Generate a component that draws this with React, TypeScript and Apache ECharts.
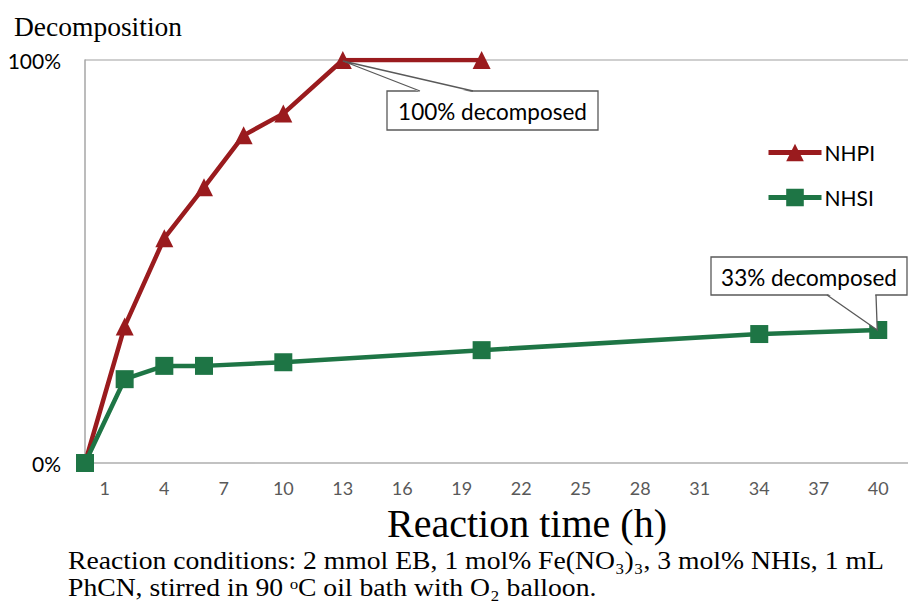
import React, { useEffect, useRef } from "react";
import * as echarts from "echarts";

const nhpiHours = [0, 2, 4, 6, 8, 10, 13, 20];
const nhpiValues = [0, 33.9, 55.8, 68.4, 81.3, 86.7, 100, 100];
const nhsiHours = [0, 2, 4, 6, 10, 20, 34, 40];
const nhsiValues = [0, 20.8, 24.1, 24.1, 25.0, 28.0, 32.0, 33.0];
const xTickLabels = [1, 4, 7, 10, 13, 16, 19, 22, 25, 28, 31, 34, 37, 40];
const seriesNames = ["NHPI", "NHSI"];
const callout1Text = "100% decomposed";
const callout2Text = "33% decomposed";
const captionLines = [
  "Reaction conditions: 2 mmol EB, 1 mol% Fe(NO₃)₃, 3 mol% NHIs, 1 mL",
  "PhCN, stirred in 90 ᵒC oil bath with O₂ balloon.",
];

const RED = "#9A1B1E";
const GREEN = "#1E7545";
const SANS = "Lato, 'Noto Sans', sans-serif";
const SERIF = "'Liberation Serif', 'DejaVu Serif', serif";

export default function App() {
  const ref = useRef<HTMLDivElement>(null);
  useEffect(() => {
    const chart = echarts.init(ref.current!, null, { renderer: "svg" });
    const option: any = {
      animation: false,
      backgroundColor: "#ffffff",
      grid: { left: 85, right: 0, top: 60, bottom: 141, containLabel: false },
      xAxis: {
        type: "value",
        min: 0,
        max: 41.5,
        axisLine: { show: true, lineStyle: { color: "#BFBFBF", width: 1.5 } },
        axisTick: { show: false },
        splitLine: { show: false },
        axisLabel: {
          customValues: xTickLabels,
          color: "#595959",
          fontSize: 18,
          fontFamily: SANS,
          margin: 16,
        },
      },
      yAxis: {
        type: "value",
        min: 0,
        max: 100,
        interval: 100,
        axisLine: { show: true, lineStyle: { color: "#A6A6A6", width: 1.5 } },
        axisTick: { show: false },
        splitLine: { show: true, lineStyle: { color: "#BFBFBF", width: 1.5 } },
        axisLabel: {
          formatter: "{value}%",
          color: "#000000",
          fontSize: 21,
          fontFamily: SANS,
          margin: 24,
        },
      },
      legend: {
        orient: "vertical",
        left: 766,
        top: 142,
        padding: 0,
        itemWidth: 53,
        itemHeight: 22,
        itemGap: 24,
        data: seriesNames,
        lineStyle: { width: 5 },
        textStyle: { fontSize: 21, fontFamily: SANS, color: "#000", padding: [0, 0, 0, -2] },
      },
      series: [
        {
          name: seriesNames[0],
          type: "line",
          data: nhpiHours.map((h, i) => [h, nhpiValues[i]]),
          symbol: "triangle",
          symbolSize: 18,
          lineStyle: { color: RED, width: 4.5 },
          itemStyle: { color: RED },
          z: 3,
        },
        {
          name: seriesNames[1],
          type: "line",
          data: nhsiHours.map((h, i) => [h, nhsiValues[i]]),
          symbol: "rect",
          symbolSize: 18,
          lineStyle: { color: GREEN, width: 4.5 },
          itemStyle: { color: GREEN },
          z: 4,
        },
      ],
    };
    chart.setOption(option);

    const p1 = chart.convertToPixel({ seriesIndex: 0 }, [nhpiHours[6], nhpiValues[6]]) as number[];
    const p2 = chart.convertToPixel({ seriesIndex: 1 }, [nhsiHours[7], nhsiValues[7]]) as number[];

    const callout = (bx: number, by: number, bw: number, bh: number, wa: number, wb: number, edgeY: number, tip: number[], text: string, inset: number) => [
      {
        type: "rect",
        shape: { x: bx, y: by, width: bw, height: bh },
        style: { fill: "#fff", stroke: "#595959", lineWidth: 1.3 },
        z: 10,
      },
      {
        type: "polygon",
        shape: { points: [[wa + 0.8, edgeY + inset], [tip[0], tip[1]], [wb - 0.8, edgeY + inset]] },
        style: { fill: "#fff", stroke: "none" },
        z: 11,
      },
      {
        type: "polyline",
        shape: { points: [[wa, edgeY], [tip[0], tip[1]], [wb, edgeY]] },
        style: { fill: "none", stroke: "#595959", lineWidth: 1.3 },
        z: 12,
      },
      {
        type: "text",
        x: bx + bw / 2,
        y: by + bh / 2 + 1,
        style: {
          text,
          fontSize: 22.5,
          fontFamily: SANS,
          fill: "#000",
          align: "center",
          verticalAlign: "middle",
        },
        z: 13,
      },
    ];

    chart.setOption({
      graphic: [
        ...callout(387, 91, 211, 39, 420, 473, 91, [p1[0], p1[1] + 1], callout1Text, 1.2),
        ...callout(711, 257, 196, 38, 827, 876, 295, [p2[0] - 1, p2[1]], callout2Text, -1.2),
        {
          type: "text",
          x: 14,
          y: 26,
          style: { text: "Decomposition", fontSize: 27.5, fontFamily: SERIF, fill: "#000", verticalAlign: "middle" },
        },
        {
          type: "text",
          x: 527,
          y: 523,
          style: {
            text: "Reaction time (h)",
            fontSize: 40,
            fontFamily: SERIF,
            fill: "#000",
            align: "center",
            verticalAlign: "middle",
          },
        },
        {
          type: "text",
          x: 68,
          y: 574,
          scaleX: 1.085,
          style: {
            text: captionLines.join("\n"),
            fontSize: 25.5,
            lineHeight: 26.5,
            fontFamily: SERIF,
            fill: "#000",
            verticalAlign: "middle",
          },
        },
      ],
    });

    return () => chart.dispose();
  }, []);
  return <div ref={ref} style={{ position: "absolute", left: 0, top: 0, width: 908, height: 604 }} />;
}
